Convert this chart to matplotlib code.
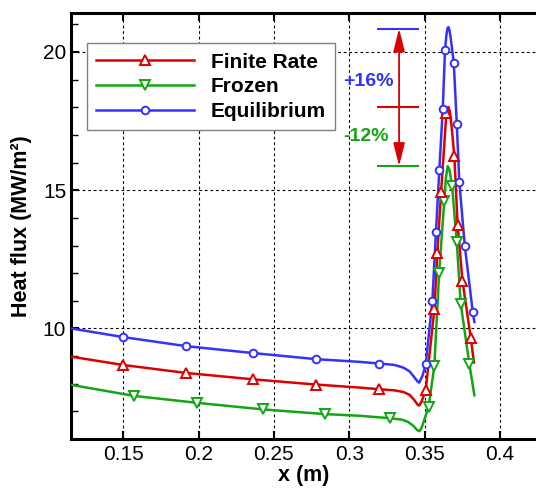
import matplotlib.pyplot as plt
from matplotlib.lines import Line2D
from matplotlib.ticker import MultipleLocator

plt.rcParams['font.family'] = ['Liberation Sans', 'DejaVu Sans']

# --- data ---
# Finite Rate (red)
fr_x = [0.1153, 0.1496, 0.1916, 0.2359, 0.2778, 0.307, 0.320, 0.330, 0.336, 0.340,
        0.343, 0.3455, 0.3465, 0.348, 0.3508, 0.3565, 0.3585, 0.361, 0.3645, 0.3652,
        0.3658, 0.3668, 0.368, 0.3698, 0.372, 0.3752, 0.3807, 0.3828]
fr_y = [8.98, 8.68, 8.39, 8.16, 7.97, 7.86, 7.80, 7.76, 7.70, 7.60,
        7.42, 7.24, 7.21, 7.35, 7.78, 10.69, 12.72, 14.95, 17.78, 17.95,
        18.01, 17.85, 17.30, 16.22, 13.73, 11.72, 9.65, 8.77]
fr_mx = [0.1496, 0.1916, 0.2359, 0.2778, 0.320, 0.3508, 0.3565, 0.3585, 0.361,
         0.3645, 0.3698, 0.372, 0.3752, 0.3807]
fr_my = [8.68, 8.39, 8.16, 7.97, 7.80, 7.78, 10.69, 12.72, 14.95,
         17.78, 16.22, 13.73, 11.72, 9.65]

# Frozen (green)
fz_x = [0.1153, 0.1571, 0.1987, 0.2428, 0.284, 0.307, 0.3274, 0.335, 0.339, 0.3425,
        0.345, 0.3466, 0.348, 0.3505, 0.3527, 0.3565, 0.3597, 0.3631, 0.3642, 0.3654,
        0.3665, 0.3683, 0.3714, 0.374, 0.3798, 0.3831]
fz_y = [7.96, 7.56, 7.31, 7.07, 6.90, 6.84, 6.75, 6.70, 6.62, 6.48,
        6.33, 6.28, 6.40, 6.80, 7.16, 8.64, 12.02, 14.60, 15.45, 15.87,
        15.75, 15.16, 13.12, 10.90, 8.70, 7.58]
fz_mx = [0.1571, 0.1987, 0.2428, 0.284, 0.3274, 0.3527, 0.3565, 0.3597, 0.3631,
         0.3683, 0.3714, 0.374, 0.3798]
fz_my = [7.56, 7.31, 7.07, 6.90, 6.75, 7.16, 8.64, 12.02, 14.60,
         15.16, 13.12, 10.90, 8.70]

# Equilibrium (blue)
eq_x = [0.1153, 0.1496, 0.1916, 0.2359, 0.2778, 0.307, 0.320, 0.330, 0.336, 0.340,
        0.343, 0.3455, 0.3465, 0.3487, 0.3508, 0.3552, 0.3576, 0.3598, 0.3621, 0.3636,
        0.3645, 0.3652, 0.3658, 0.3665, 0.3675, 0.3694, 0.3714, 0.3731, 0.3767,
        0.382, 0.3831]
eq_y = [10.0, 9.69, 9.36, 9.11, 8.89, 8.79, 8.73, 8.68, 8.58, 8.45,
        8.25, 8.07, 8.04, 8.30, 8.70, 10.99, 13.50, 15.72, 17.94, 20.07,
        20.60, 20.85, 20.90, 20.80, 20.45, 19.62, 17.41, 15.29, 13.00,
        10.60, 10.23]
eq_mx = [0.1496, 0.1916, 0.2359, 0.2778, 0.320, 0.3508, 0.3552, 0.3576, 0.3598,
         0.3621, 0.3636, 0.3694, 0.3714, 0.3731, 0.3767, 0.382]
eq_my = [9.69, 9.36, 9.11, 8.89, 8.73, 8.70, 10.99, 13.50, 15.72,
         17.94, 20.07, 19.62, 17.41, 15.29, 13.00, 10.60]

# peak levels for the annotation
peak_eq, peak_fr, peak_fz = 20.85, 18.0, 15.87

red = '#dc0000'
green = '#14a514'
blue = '#3232ff'

fig = plt.figure(figsize=(5.36, 4.88), dpi=100)
ax = fig.add_axes([71 / 536, 1 - 439 / 488, 465 / 536, 425.7 / 488])

series = [
    (fz_x, fz_y, fz_mx, fz_my, green, 'v', 6.5),
    (fr_x, fr_y, fr_mx, fr_my, red, '^', 6.5),
    (eq_x, eq_y, eq_mx, eq_my, blue, 'o', 5.5),
]
for x, y, mx, my, c, m, ms in series:
    ax.plot(x, y, color=c, lw=1.8, zorder=3)
    ax.plot(mx, my, ls='none', marker=m, ms=ms, mfc='white', mec=c, mew=1.4, zorder=4)

# percentage annotation
ax.hlines(peak_eq, 0.3183, 0.3466, color=blue, lw=1.5)
ax.hlines(peak_fr, 0.3183, 0.3466, color=red, lw=1.5)
ax.hlines(peak_fz, 0.3183, 0.3466, color=green, lw=1.5)
arrow = dict(arrowstyle='-|>,head_length=1.4,head_width=0.35', color=red, lw=1.3,
             shrinkA=0, shrinkB=0)
ax.annotate('', xy=(0.3331, peak_eq), xytext=(0.3331, peak_fr), arrowprops=arrow)
ax.annotate('', xy=(0.3331, peak_fz), xytext=(0.3331, peak_fr), arrowprops=arrow)
ax.text(0.3126, 18.94, '+16%', color=blue, fontsize=14, fontweight='bold',
        ha='center', va='center')
ax.text(0.3113, 16.95, '-12%', color=green, fontsize=14, fontweight='bold',
        ha='center', va='center')

ax.set_xlim(0.1153, 0.424)
ax.set_ylim(6.0, 21.4)
ax.set_xticks([0.15, 0.2, 0.25, 0.3, 0.35, 0.4])
ax.set_xticklabels(['0.15', '0.2', '0.25', '0.3', '0.35', '0.4'])
ax.set_yticks([10, 15, 20])
ax.yaxis.set_minor_locator(MultipleLocator(1))
ax.tick_params(which='both', direction='in', top=True, right=False, labelsize=15)
ax.tick_params(which='major', length=6, width=1.5)
ax.tick_params(which='minor', length=5, width=1.0)
ax.tick_params(axis='x', pad=4)

ax.grid(True, which='major', color='black', linestyle=(0, (2.5, 2.5)), linewidth=0.8)
for side in ['left', 'bottom', 'top']:
    ax.spines[side].set_linewidth(2.2)
ax.spines['right'].set_visible(False)

ax.set_xlabel('x (m)', fontsize=15.5, fontweight='bold', labelpad=1)
ax.set_ylabel('Heat flux (MW/m²)', fontsize=15.5, fontweight='bold', labelpad=8)

handles = [
    Line2D([], [], color=red, lw=1.8, marker='^', ms=6.5, mfc='white', mec=red, mew=1.4),
    Line2D([], [], color=green, lw=1.8, marker='v', ms=6.5, mfc='white', mec=green, mew=1.4),
    Line2D([], [], color=blue, lw=1.8, marker='o', ms=5.5, mfc='white', mec=blue, mew=1.4),
]
leg = ax.legend(handles, ['Finite Rate', 'Frozen', 'Equilibrium'],
                loc='upper left', bbox_to_anchor=(0.0338, 0.9295), borderaxespad=0,
                prop={'weight': 'bold', 'size': 15}, numpoints=1,
                handlelength=4.7, handletextpad=0.8, labelspacing=0.27,
                borderpad=0.45, fancybox=False, framealpha=1, edgecolor='gray')
leg.get_frame().set_linewidth(1.0)

fig.savefig('out.png', dpi=100)
plt.close(fig)
